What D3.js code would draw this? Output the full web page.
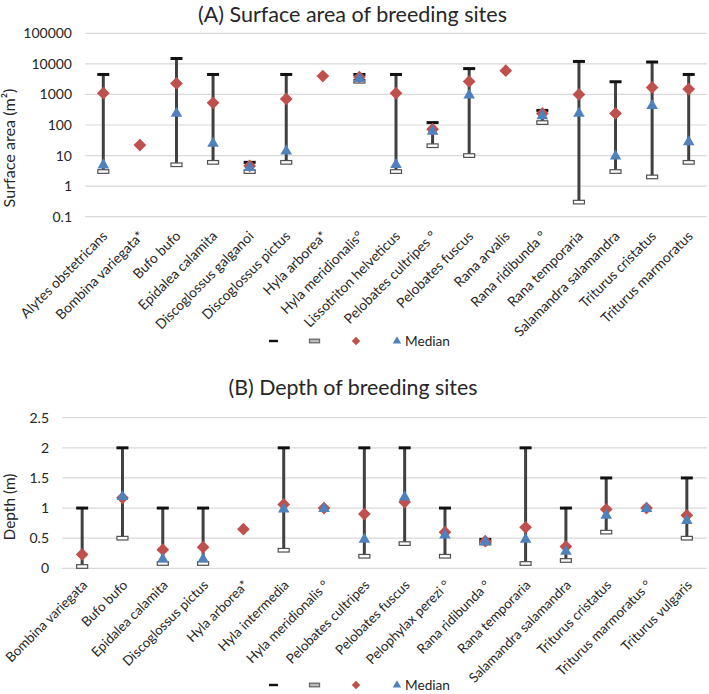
<!DOCTYPE html>
<html><head><meta charset="utf-8">
<script src="https://cdn.jsdelivr.net/npm/d3@7"></script>
<style>
body{margin:0;background:#fff}
text{font-family:Lato,"Open Sans",sans-serif}
</style>
</head><body>
<svg id="chart" width="709" height="694"></svg>
<script>
// ---------- Panel A data: surface area (m²) ----------
const speciesA = ["Alytes obstetricans","Bombina variegata*","Bufo bufo","Epidalea calamita","Discoglossus galganoi","Discoglossus pictus","Hyla arborea*","Hyla meridionalis°","Lissotriton helveticus","Pelobates cultripes °","Pelobates fuscus","Rana arvalis","Rana ridibunda °","Rana temporaria","Salamandra salamandra","Triturus cristatus","Triturus marmoratus"];
const maxA    = [4500, null, 15000, 4500, 6, 4500, null, 4500, 4500, 120, 7000, null, 300, 12000, 2600, 11500, 4500];
const minA    = [3, null, 5, 6, 3, 6, null, 2700, 3, 21, 10, null, 120, 0.3, 3, 2, 6];
const meanA   = [1100, 22, 2300, 530, 4.6, 710, 4000, 3700, 1100, 73, 2650, 6000, 240, 1000, 240, 1700, 1500];
const medianA = [4.9, null, 240, 25, 4, 14, null, 3300, 5, 62, 940, null, 200, 240, 9.6, 430, 28];
const ticksA  = [0.1, 1, 10, 100, 1000, 10000, 100000];

// ---------- Panel B data: depth (m) ----------
const speciesB = ["Bombina variegata","Bufo bufo","Epidalea calamita","Discoglossus pictus","Hyla arborea*","Hyla intermedia","Hyla meridionalis °","Pelobates cultripes","Pelobates fuscus","Pelophylax perezi °","Rana ridibunda °","Rana temporaria","Salamandra salamandra","Triturus cristatus","Triturus marmoratus °","Triturus vulgaris"];
const maxB    = [1, 2, 1, 1, null, 2, null, 2, 2, 1, 0.48, 2, 1, 1.5, null, 1.5];
const minB    = [0.03, 0.5, 0.08, 0.08, null, 0.3, null, 0.2, 0.41, 0.2, 0.42, 0.08, 0.13, 0.6, null, 0.5];
const meanB   = [0.23, 1.17, 0.31, 0.35, 0.65, 1.06, 1.0, 0.9, 1.1, 0.6, 0.45, 0.68, 0.36, 0.98, 1.0, 0.88];
const medianB = [null, 1.19, 0.15, 0.15, null, 0.98, 0.99, 0.48, 1.18, 0.55, 0.44, 0.48, 0.28, 0.88, 0.99, 0.79];
const ticksB  = [0, 0.5, 1, 1.5, 2, 2.5];

const titles = ["(A) Surface area of breeding sites", "(B) Depth of breeding sites"];
const yTitles = ["Surface area (m²)", "Depth (m)"];
const legendLabels = ["", "", "", "Median"];

const RED = "#C0504D", BLUE = "#4F81BD", WHISK = "#404040", GRID = "#D9D9D9", TXT = "#262626";
const svg = d3.select("#chart");

// scale a text selection's font so that its first node has the target width (emulates narrow Calibri metrics)
function fit(sel, base, target) {
  sel.attr("font-size", base);
  const w = sel.node().getComputedTextLength();
  const fs = w > 0 ? base * target / w : base;
  sel.attr("font-size", fs);
  return fs;
}

function diamond(g, cx, cy, side, fill) {
  return g.append("rect").attr("x", -side / 2).attr("y", -side / 2).attr("width", side).attr("height", side)
    .attr("fill", fill).attr("transform", `translate(${cx},${cy}) rotate(45)`);
}

function panel(o) {
  const g = svg.append("g");
  const x = d3.scaleBand().domain(o.cats).range([o.x0, o.x1]);
  const y = o.y;
  // title
  const t = g.append("text").attr("x", o.titleX).attr("y", o.titleY).attr("text-anchor", "middle")
    .attr("fill", TXT).text(o.title);
  fit(t, 21, o.titleW);
  // grid
  g.selectAll(".grid").data(o.ticks).join("line")
    .attr("x1", o.x0).attr("x2", o.x1).attr("y1", d => y(d)).attr("y2", d => y(d))
    .attr("stroke", GRID).attr("stroke-width", 1.2);
  // y axis labels via d3 axis
  const ax = g.append("g").attr("transform", `translate(${o.x0 - 13},0)`)
    .call(d3.axisLeft(y).tickValues(o.ticks).tickSize(0).tickPadding(0).tickFormat(o.fmt));
  ax.select(".domain").remove();
  ax.selectAll("text").attr("font-size", o.tickFs).attr("fill", TXT).style("font-family", "Lato,sans-serif");
  // y title
  const yt = g.append("text").attr("transform", `translate(${o.ytX},${o.ytY}) rotate(-90)`)
    .attr("text-anchor", "middle").attr("fill", TXT).text(o.yTitle);
  fit(yt, 15, o.ytW);
  // whiskers
  const cx = d => x(d) + x.bandwidth() / 2;
  const all = o.cats.map((c, i) => i);
  const idx = all.filter(i => o.max[i] != null);
  g.selectAll(".vline").data(idx).join("line")
    .attr("x1", i => cx(o.cats[i])).attr("x2", i => cx(o.cats[i]))
    .attr("y1", i => y(o.max[i])).attr("y2", i => y(o.min[i]))
    .attr("stroke", WHISK).attr("stroke-width", 3);
  g.selectAll(".topcap").data(idx).join("line")
    .attr("x1", i => cx(o.cats[i]) - 6).attr("x2", i => cx(o.cats[i]) + 6)
    .attr("y1", i => y(o.max[i])).attr("y2", i => y(o.max[i]))
    .attr("stroke", "#111").attr("stroke-width", 3);
  g.selectAll(".botcap").data(idx).join("rect")
    .attr("x", i => cx(o.cats[i]) - 5.5).attr("width", 11)
    .attr("y", i => y(o.min[i]) - 1.8).attr("height", 3.6)
    .attr("fill", "#fff").attr("stroke", "#505050").attr("stroke-width", 1.2);
  // mean diamonds
  all.filter(i => o.mean[i] != null).forEach(i => diamond(g, cx(o.cats[i]), y(o.mean[i]), 9, RED));
  // median triangles
  const tri = d3.symbol().type(d3.symbolTriangle).size(58);
  g.selectAll(".med").data(all.filter(i => o.median[i] != null)).join("path")
    .attr("d", tri).attr("fill", BLUE)
    .attr("transform", i => `translate(${cx(o.cats[i])},${y(o.median[i])})`);
  // x labels
  const xl = g.selectAll(".xl").data(o.cats).join("text")
    .attr("transform", d => `translate(${cx(d) + o.xlDx},${o.xlY}) rotate(-45)`)
    .attr("text-anchor", "end").attr("fill", TXT).text(d => d);
  const fs = fit(d3.select(xl.nodes()[o.refLabel]), 13.5, o.refLabelW);
  xl.attr("font-size", fs);
  // legend
  const ly = o.legY, lx = [273.5, 314.5, 356, 397];
  const lg = g.append("g");
  lg.append("line").attr("x1", lx[0] - 4.5).attr("x2", lx[0] + 4.5).attr("y1", ly).attr("y2", ly)
    .attr("stroke", "#111").attr("stroke-width", 2.4);
  lg.append("rect").attr("x", lx[1] - 5).attr("y", ly - 1.8).attr("width", 10).attr("height", 3.6)
    .attr("fill", "#bbb").attr("stroke", "#6a6a6a").attr("stroke-width", 1.3);
  diamond(lg, lx[2], ly, 6, RED);
  lg.append("path").attr("d", d3.symbol().type(d3.symbolTriangle).size(30)).attr("fill", BLUE)
    .attr("transform", `translate(${lx[3]},${ly})`);
  const mt = lg.append("text").attr("x", lx[3] + 8).attr("y", ly + 5).attr("fill", TXT)
    .text(legendLabels[3]);
  fit(mt, 14.5, 45);
}

panel({
  cats: speciesA, max: maxA, min: minA, mean: meanA, median: medianA, ticks: ticksA,
  x0: 85, x1: 707,
  y: d3.scaleLog().domain([0.1, 100000]).range([216.7, 33.3]),
  fmt: d => d < 1 ? String(d) : d3.format("d")(d),
  tickFs: 14,
  title: titles[0], titleX: 352.5, titleY: 22, titleW: 309,
  yTitle: yTitles[0], ytX: 15, ytY: 148, ytW: 119,
  xlY: 237, xlDx: 5, legY: 341, refLabel: 0, refLabelW: 116
});

panel({
  cats: speciesB, max: maxB, min: minB, mean: meanB, median: medianB, ticks: ticksB,
  x0: 62, x1: 707,
  y: d3.scaleLinear().domain([0, 2.5]).range([568.3, 417.7]),
  fmt: d => String(d),
  tickFs: 14,
  title: titles[1], titleX: 353, titleY: 395, titleW: 249,
  yTitle: yTitles[1], ytX: 15, ytY: 507, ytW: 67,
  xlY: 586, xlDx: 6, legY: 685, refLabel: 0, refLabelW: 109
});
</script>
</body></html>
